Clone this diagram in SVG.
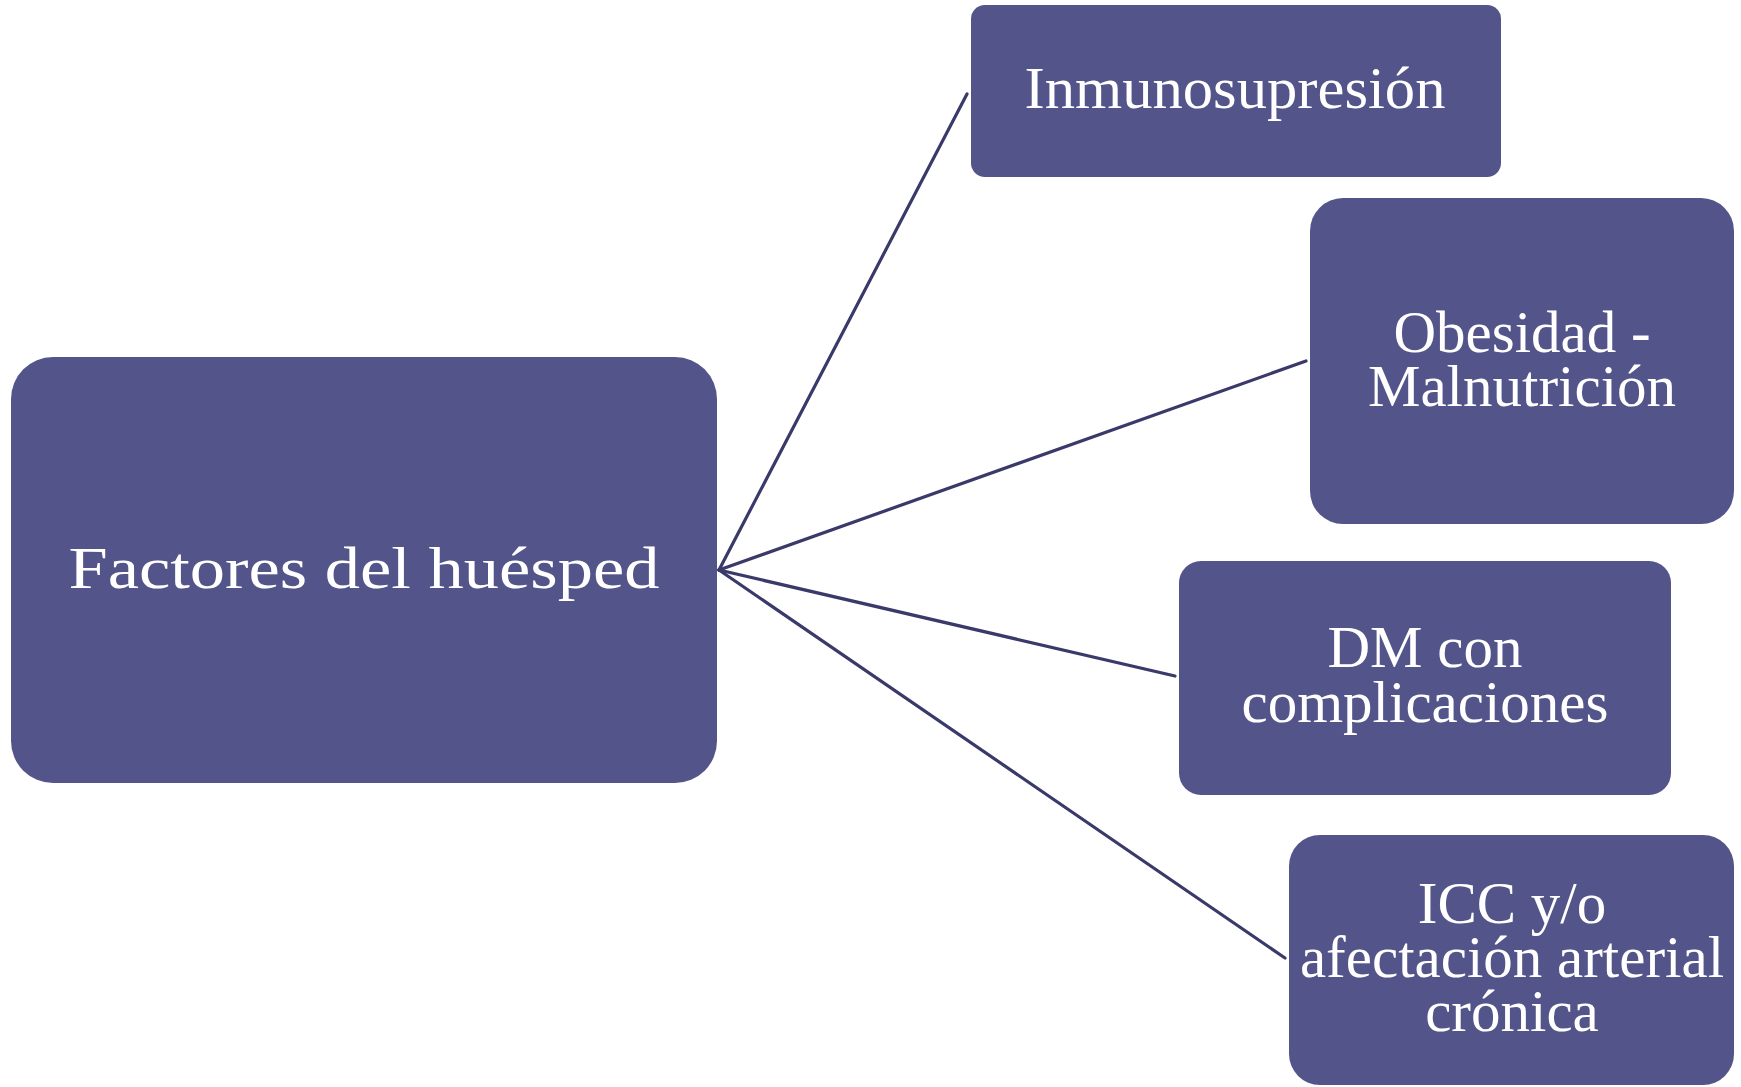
<svg xmlns="http://www.w3.org/2000/svg" width="1741" height="1087" viewBox="0 0 1741 1087">
<style>
.box{fill:#535489;}
.lbl{fill:#ffffff;font-family:"Liberation Serif","Times New Roman",serif;text-anchor:middle;font-size:59px;}
.conn line{stroke:#3a3a6a;stroke-width:3.2;fill:none;stroke-linecap:round;}
</style>
<rect width="1741" height="1087" fill="#ffffff"/>
<g class="conn" id="connectors">
<line x1="719" y1="570" x2="967" y2="94"/>
<line x1="719" y1="570" x2="1306" y2="361"/>
<line x1="719" y1="570" x2="1175" y2="676"/>
<line x1="719" y1="570" x2="1285" y2="958"/>
</g>
<g id="node-factores">
<rect class="box" x="11" y="357" width="706" height="426" rx="42"/>
<text class="lbl" x="364" y="588" font-size="74" textLength="591" lengthAdjust="spacingAndGlyphs">Factores del huésped</text>
</g>
<g id="node-inmuno">
<rect class="box" x="971" y="5" width="530" height="172" rx="14"/>
<text class="lbl" x="1235" y="108" font-size="60" textLength="421" lengthAdjust="spacingAndGlyphs">Inmunosupresión</text>
</g>
<g id="node-obesidad">
<rect class="box" x="1310" y="198" width="424" height="326" rx="33"/>
<text class="lbl" x="1522" y="352">Obesidad -</text>
<text class="lbl" x="1522" y="406">Malnutrición</text>
</g>
<g id="node-dm">
<rect class="box" x="1179" y="561" width="492" height="234" rx="22"/>
<text class="lbl" x="1425" y="667">DM con</text>
<text class="lbl" x="1425" y="722">complicaciones</text>
</g>
<g id="node-icc">
<rect class="box" x="1289" y="835" width="445" height="250" rx="31"/>
<text class="lbl" x="1512" y="923">ICC y/o</text>
<text class="lbl" x="1512" y="977">afectación arterial</text>
<text class="lbl" x="1512" y="1031">crónica</text>
</g>
</svg>
